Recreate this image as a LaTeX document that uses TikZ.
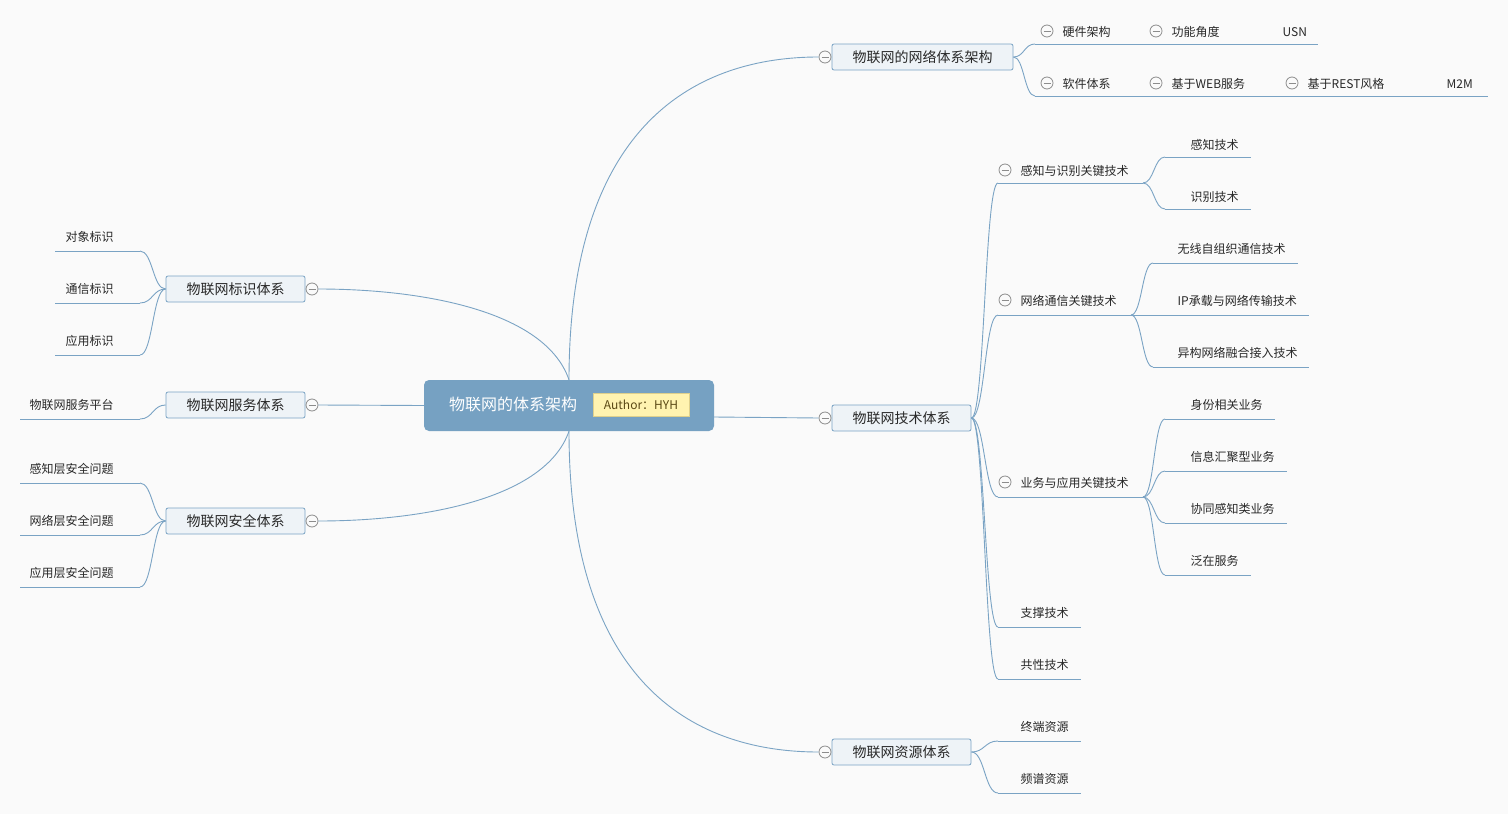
\documentclass[tikz,border=0pt]{standalone}
\usepackage{fontspec}
\setmainfont{Noto Sans CJK SC}
\usetikzlibrary{calc}
\definecolor{bg}{RGB}{250,250,250}
\definecolor{linec}{RGB}{122,163,196}
\definecolor{centerfill}{RGB}{118,161,194}
\definecolor{topicfill}{RGB}{238,243,247}
\definecolor{authf}{RGB}{255,243,176}
\definecolor{authb}{RGB}{222,208,140}
\definecolor{autht}{RGB}{90,72,20}
\definecolor{foldc}{RGB}{140,140,140}
\definecolor{txt}{RGB}{40,40,40}
\newcommand{\curvelink}[2]{\path ($(#1)!0.5!(#2)$) coordinate (cmid);
  \draw[conn] (#1) .. controls (cmid |- #1) and (cmid |- #2) .. (#2);}
\tikzset{
  conn/.style={draw=linec, line width=0.9pt},
  topic/.style={draw=linec, fill=topicfill, rounded corners=2pt, minimum height=26pt, inner sep=0pt, font=\fontsize{14}{16}\selectfont, text=txt, line width=0.8pt},
  leaf/.style={anchor=west, inner sep=0pt, font=\fontsize{12}{14}\selectfont, text=txt, yshift=-0.8pt},
  fold/.style={circle, draw=foldc, fill=bg, line width=0.8pt, minimum size=12pt, inner sep=0pt,
    path picture={\draw[foldc, line width=0.8pt] ($(path picture bounding box.center)+(-3.5,0)$) -- ($(path picture bounding box.center)+(3.5,0)$);}}
}
\begin{document}
\begin{tikzpicture}[x=1pt,y=-1pt]
\fill[bg] (0,0) rectangle (1508,814);
\useasboundingbox (0,0) rectangle (1508,814);

% ---------- root ----------
\node[fill=centerfill, rounded corners=5pt, minimum width=290pt, minimum height=51pt, inner sep=0pt] (root) at (569,405.5) {};
\node[text=white, font=\fontsize{16}{18}\selectfont, inner sep=0pt] (title) at (513,404) {物联网的体系架构};
\node[draw=authb, fill=authf, minimum width=96pt, minimum height=23pt, inner sep=0pt, font=\fontsize{12}{14}\selectfont, text=autht] (author) at (641,404.5) {Author：HYH};
\coordinate (rootE) at (714,417);

% ---------- main topics right ----------
\node[topic, minimum width=181pt] (net) at (922.5,57) {物联网的网络体系架构};
\node[fold] (fnet) at (825,57) {};
\node[topic, minimum width=139pt] (tech) at (901.5,418) {物联网技术体系};
\node[fold] (ftech) at (825,418) {};
\node[topic, minimum width=139pt] (res) at (901.5,752) {物联网资源体系};
\node[fold] (fres) at (825,752) {};

% ---------- main topics left ----------
\node[topic, minimum width=139pt] (idn) at (235.5,289) {物联网标识体系};
\node[fold] (fidn) at (312,289) {};
\node[topic, minimum width=139pt] (srv) at (235.5,405) {物联网服务体系};
\node[fold] (fsrv) at (312,405) {};
\node[topic, minimum width=139pt] (sec) at (235.5,521) {物联网安全体系};
\node[fold] (fsec) at (312,521) {};

% root connectors
\draw[conn] (root.north) .. controls (569,120) and (700,57) .. (fnet.west);
\draw[conn] (rootE) -- (ftech.west);
\draw[conn] (root.south) .. controls (569,690) and (700,752) .. (fres.west);
\draw[conn] (root.north) .. controls (545,310) and (420,289) .. (fidn.east);
\draw[conn] (root.west) -- (fsrv.east);
\draw[conn] (root.south) .. controls (545,500) and (420,521) .. (fsec.east);

% ---------- network architecture branch ----------
\node[fold] (fhw) at (1047,31) {};
\node[leaf] (hw) at (1062.5,31) {硬件架构};
\node[fold] (ffa) at (1156,31) {};
\node[leaf] (fa) at (1171.5,31) {功能角度};
\node[leaf] (usn) at (1282.5,31) {USN};
\coordinate (hwA) at (1035,44); \coordinate (hwB) at (1140,44);
\coordinate (faB) at (1270,44); \coordinate (usnB) at (1318,44);
\curvelink{net.east}{hwA}
\draw[conn] (hwA) -- (hwB); \draw[conn] (hwB) -- (faB); \draw[conn] (faB) -- (usnB);

\node[fold] (fsw) at (1047,83) {};
\node[leaf] (sw) at (1062.5,83) {软件体系};
\node[fold] (fweb) at (1156,83) {};
\node[leaf] (web) at (1171.5,83) {基于WEB服务};
\node[fold] (frest) at (1292,83) {};
\node[leaf] (rest) at (1307.5,83) {基于REST风格};
\node[leaf] (m2m) at (1446.5,83) {M2M};
\coordinate (swA) at (1035,96); \coordinate (swB) at (1140,96);
\coordinate (webB) at (1276,96); \coordinate (restB) at (1430,96); \coordinate (m2mB) at (1488,96);
\curvelink{net.east}{swA}
\draw[conn] (swA) -- (swB); \draw[conn] (swB) -- (webB); \draw[conn] (webB) -- (restB); \draw[conn] (restB) -- (m2mB);

% ---------- technology branch ----------
% sensing & identification
\node[fold] (fsen) at (1005,170) {};
\node[leaf] (sen) at (1020.5,170) {感知与识别关键技术};
\coordinate (senA) at (998,183); \coordinate (senB) at (1143,183);
\curvelink{tech.east}{senA}
\draw[conn] (senA) -- (senB);
\node[leaf] (s1) at (1190.5,144) {感知技术};
\coordinate (s1A) at (1165,157); \coordinate (s1B) at (1251,157);
\node[leaf] (s2) at (1190.5,196) {识别技术};
\coordinate (s2A) at (1165,209); \coordinate (s2B) at (1251,209);
\curvelink{senB}{s1A} \draw[conn] (s1A) -- (s1B);
\curvelink{senB}{s2A} \draw[conn] (s2A) -- (s2B);

% network communication
\node[fold] (fcom) at (1005,300) {};
\node[leaf] (com) at (1020.5,300) {网络通信关键技术};
\coordinate (comA) at (998,315); \coordinate (comB) at (1131,315);
\curvelink{tech.east}{comA}
\draw[conn] (comA) -- (comB);
\node[leaf] (c1) at (1177.5,248) {无线自组织通信技术};
\coordinate (c1A) at (1153,263); \coordinate (c1B) at (1298,263);
\node[leaf] (c2) at (1177.5,300) {IP承载与网络传输技术};
\coordinate (c2A) at (1153,315); \coordinate (c2B) at (1309,315);
\node[leaf] (c3) at (1177.5,352) {异构网络融合接入技术};
\coordinate (c3A) at (1153,367); \coordinate (c3B) at (1309,367);
\curvelink{comB}{c1A} \draw[conn] (c1A) -- (c1B);
\draw[conn] (comB) -- (c2A); \draw[conn] (c2A) -- (c2B);
\curvelink{comB}{c3A} \draw[conn] (c3A) -- (c3B);

% business & application
\node[fold] (fbiz) at (1005,482) {};
\node[leaf] (biz) at (1020.5,482) {业务与应用关键技术};
\coordinate (bizA) at (998,497); \coordinate (bizB) at (1143,497);
\curvelink{tech.east}{bizA}
\draw[conn] (bizA) -- (bizB);
\node[leaf] (b1) at (1190.5,404) {身份相关业务};
\coordinate (b1A) at (1165,419); \coordinate (b1B) at (1275,419);
\node[leaf] (b2) at (1190.5,456) {信息汇聚型业务};
\coordinate (b2A) at (1165,471); \coordinate (b2B) at (1287,471);
\node[leaf] (b3) at (1190.5,508) {协同感知类业务};
\coordinate (b3A) at (1165,523); \coordinate (b3B) at (1287,523);
\node[leaf] (b4) at (1190.5,560) {泛在服务};
\coordinate (b4A) at (1165,575); \coordinate (b4B) at (1251,575);
\curvelink{bizB}{b1A} \draw[conn] (b1A) -- (b1B);
\curvelink{bizB}{b2A} \draw[conn] (b2A) -- (b2B);
\curvelink{bizB}{b3A} \draw[conn] (b3A) -- (b3B);
\curvelink{bizB}{b4A} \draw[conn] (b4A) -- (b4B);

% support & common
\node[leaf] (sup) at (1020.5,612) {支撑技术};
\coordinate (supA) at (998,627); \coordinate (supB) at (1081,627);
\curvelink{tech.east}{supA} \draw[conn] (supA) -- (supB);
\node[leaf] (cmn) at (1020.5,664) {共性技术};
\coordinate (cmnA) at (998,679); \coordinate (cmnB) at (1081,679);
\curvelink{tech.east}{cmnA} \draw[conn] (cmnA) -- (cmnB);

% ---------- resource branch ----------
\node[leaf] (r1) at (1020.5,726) {终端资源};
\coordinate (r1A) at (998,741); \coordinate (r1B) at (1081,741);
\node[leaf] (r2) at (1020.5,778) {频谱资源};
\coordinate (r2A) at (998,793); \coordinate (r2B) at (1081,793);
\curvelink{res.east}{r1A} \draw[conn] (r1A) -- (r1B);
\curvelink{res.east}{r2A} \draw[conn] (r2A) -- (r2B);

% ---------- identification branch ----------
\node[leaf] (i1) at (65.5,236) {对象标识};
\coordinate (i1A) at (55,251); \coordinate (i1B) at (140,251);
\node[leaf] (i2) at (65.5,288) {通信标识};
\coordinate (i2A) at (55,303); \coordinate (i2B) at (140,303);
\node[leaf] (i3) at (65.5,340) {应用标识};
\coordinate (i3A) at (55,355); \coordinate (i3B) at (140,355);
\curvelink{idn.west}{i1B} \draw[conn] (i1B) -- (i1A);
\curvelink{idn.west}{i2B} \draw[conn] (i2B) -- (i2A);
\curvelink{idn.west}{i3B} \draw[conn] (i3B) -- (i3A);

% ---------- service branch ----------
\node[leaf] (v1) at (29.5,404) {物联网服务平台};
\coordinate (v1A) at (20,419); \coordinate (v1B) at (140,419);
\curvelink{srv.west}{v1B} \draw[conn] (v1B) -- (v1A);

% ---------- security branch ----------
\node[leaf] (e1) at (29.5,468) {感知层安全问题};
\coordinate (e1A) at (20,483); \coordinate (e1B) at (140,483);
\node[leaf] (e2) at (29.5,520) {网络层安全问题};
\coordinate (e2A) at (20,535); \coordinate (e2B) at (140,535);
\node[leaf] (e3) at (29.5,572) {应用层安全问题};
\coordinate (e3A) at (20,587); \coordinate (e3B) at (140,587);
\curvelink{sec.west}{e1B} \draw[conn] (e1B) -- (e1A);
\curvelink{sec.west}{e2B} \draw[conn] (e2B) -- (e2A);
\curvelink{sec.west}{e3B} \draw[conn] (e3B) -- (e3A);
\end{tikzpicture}
\end{document}
